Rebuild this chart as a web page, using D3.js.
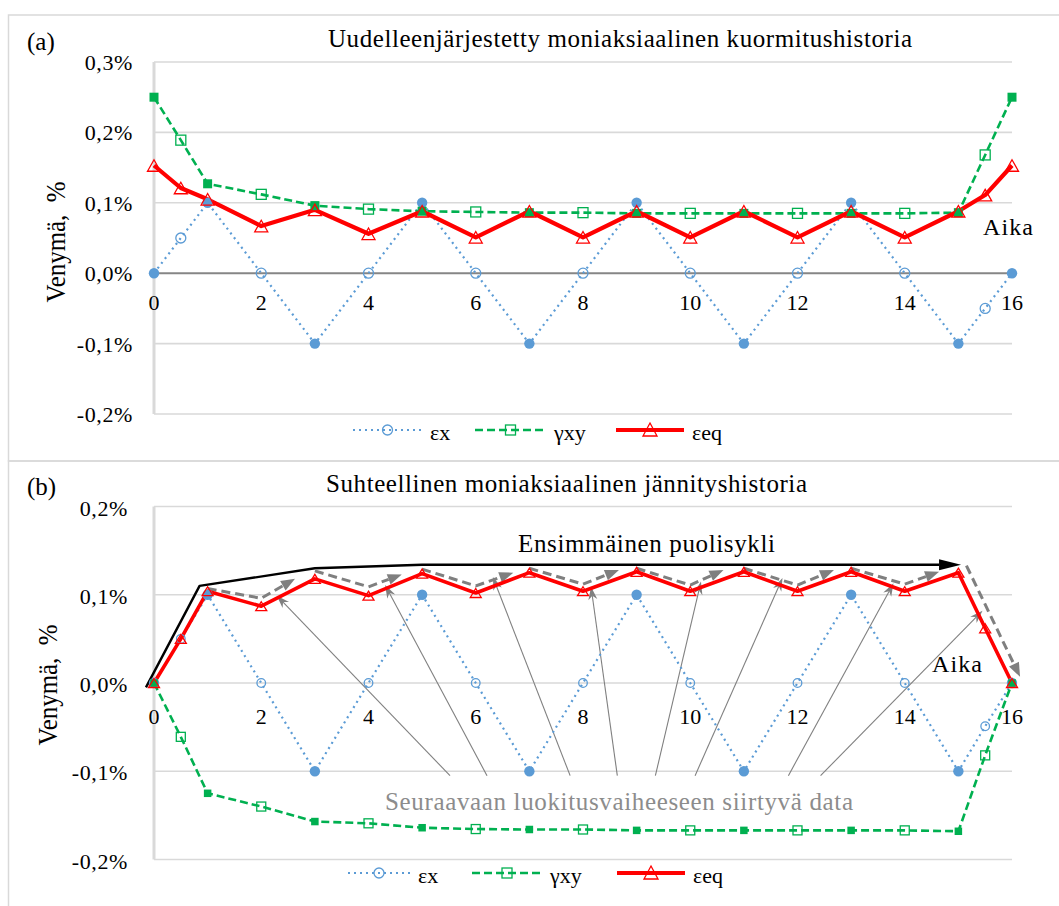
<!DOCTYPE html>
<html><head><meta charset="utf-8">
<script src="https://cdn.jsdelivr.net/npm/d3@7"></script>
<style>body{margin:0;background:#fff} svg{display:block} text{font-family:"Liberation Serif","Times New Roman",serif;fill:#000}</style>
</head><body><svg id="c" width="1059" height="906"></svg>
<script>
// ---------- data ----------
const xs = [0,0.5,1,2,3,4,5,6,7,8,9,10,11,12,13,14,15,15.5,16];
const exA  = [0,0.05,0.1,0,-0.1,0,0.1,0,-0.1,0,0.1,0,-0.1,0,0.1,0,-0.1,-0.05,0];
const gxyA = [0.25,0.189,0.127,0.112,0.096,0.091,0.088,0.087,0.086,0.086,0.085,0.085,0.085,0.085,0.085,0.085,0.086,0.168,0.25];
const eeqA = [0.153,0.121,0.105,0.067,0.09,0.056,0.088,0.051,0.088,0.051,0.088,0.051,0.088,0.051,0.088,0.051,0.088,0.111,0.153];
const exB  = [0,0.05,0.1,0,-0.1,0,0.1,0,-0.1,0,0.1,0,-0.1,0,0.1,0,-0.1,-0.049,0];
const gxyB = [0,-0.061,-0.125,-0.140,-0.157,-0.159,-0.164,-0.1655,-0.166,-0.166,-0.167,-0.167,-0.167,-0.167,-0.167,-0.167,-0.168,-0.082,0];
const eeqB = [0,0.05,0.104,0.087,0.118,0.099,0.124,0.102,0.125,0.104,0.126,0.104,0.126,0.104,0.126,0.104,0.125,0.062,0];
const xTicks = [0,2,4,6,8,10,12,14,16];
const yTicksA = [-0.2,-0.1,0,0.1,0.2,0.3];
const yTicksB = [-0.2,-0.1,0,0.1,0.2];
const seriesNames = ["εx","γxy","εeq"];
const titleA = "Uudelleenjärjestetty moniaksiaalinen kuormitushistoria";
const titleB = "Suhteellinen moniaksiaalinen jännityshistoria";
const axisTitle = "Venymä,\u00a0\u00a0%";
// annotation paths of panel (b), in data units (x, strain %)
const halfCycle = [[-0.15,-0.005],[0.85,0.11],[3.0,0.13],[5.0,0.134],[15.05,0.134]];
const cycleArrows = [
  [[1,0.107],[2,0.096],[2.63,0.118]],
  [[3,0.127],[4,0.109],[4.62,0.123]],
  [[5,0.129],[6,0.11],[6.7,0.125]],
  [[7,0.13],[8,0.112],[8.67,0.128]],
  [[9,0.13],[10,0.111],[10.62,0.128]],
  [[11,0.13],[12,0.111],[12.68,0.128]],
  [[13,0.13],[14,0.112],[14.64,0.126]],
  [[15.15,0.133],[16.15,0.007]]
];
const pointerStarts = [[5.52,-0.105],[6.21,-0.105],[7.76,-0.105],[8.64,-0.105],[9.35,-0.105],[10.09,-0.105],[11.83,-0.105],[12.43,-0.105]];
const pointerTips = [[2.29,0.099],[4.31,0.111],[6.32,0.12],[8.15,0.109],[10.2,0.115],[11.72,0.119],[13.79,0.113],[15.45,0.082]];

// ---------- drawing ----------
const svg = d3.select("#c");
const BLUE = "#5b9bd5", GREEN = "#00b050", RED = "#ff0000", GRID = "#d9d9d9";
const fmt = d => d3.format(".1f")(d).replace("−","-").replace(".",",") + "%";
const x = d3.scaleLinear().domain([0,16]).range([154,1012]);

// frames
svg.append("rect").attr("x",8.5).attr("y",15).attr("width",1100).attr("height",446)
  .attr("fill","none").attr("stroke",GRID).attr("stroke-width",1.5);
svg.append("rect").attr("x",8.5).attr("y",461).attr("width",1100).attr("height",500)
  .attr("fill","none").attr("stroke",GRID).attr("stroke-width",1.5);

function headPath(tip, from, len, wid){
  const dx = tip[0]-from[0], dy = tip[1]-from[1], L = Math.hypot(dx,dy);
  const ux = dx/L, uy = dy/L, px = -uy, py = ux;
  const bx = tip[0]-ux*len, by = tip[1]-uy*len;
  return {d:`M${tip[0]},${tip[1]}L${bx+px*wid/2},${by+py*wid/2}L${bx-px*wid/2},${by-py*wid/2}Z`, base:[bx,by]};
}

function panel(cfg){
  const g = svg.append("g");
  const y = cfg.y;
  // gridlines
  cfg.yTicks.forEach(t=>{
    g.append("line").attr("x1",x(0)).attr("x2",x(16)).attr("y1",y(t)).attr("y2",y(t))
      .attr("stroke", (t===0 && cfg.darkZero) ? "#868686" : GRID).attr("stroke-width", (t===0 && cfg.darkZero)?2:1.6);
  });
  g.append("line").attr("x1",x(0)).attr("x2",x(0)).attr("y1",y(cfg.yTicks[cfg.yTicks.length-1])).attr("y2",y(cfg.yTicks[0]))
    .attr("stroke",GRID).attr("stroke-width",3);
  // y tick labels
  cfg.yTicks.forEach(t=>{
    g.append("text").attr("x",cfg.yLabX).attr("y",y(t)+cfg.yLabDy).attr("text-anchor","end")
      .attr("font-size",22).attr("letter-spacing",0.6).text(fmt(t));
  });
  // x tick labels
  xTicks.forEach(t=>{
    g.append("text").attr("x",x(t)).attr("y",cfg.xLabY).attr("text-anchor","middle")
      .attr("font-size",22).text(t);
  });
  // titles
  g.append("text").attr("x",cfg.titleX).attr("y",cfg.titleY).attr("font-size",25)
    .attr("textLength",cfg.titleW).attr("lengthAdjust","spacing").text(cfg.title);
  g.append("text").attr("x",27).attr("y",cfg.titleY+3).attr("font-size",25).text(cfg.tag);
  g.append("text").attr("transform",`translate(${cfg.axX},${cfg.axY}) rotate(-90)`)
    .attr("text-anchor","middle").attr("font-size",28)
    .attr("textLength",121).attr("lengthAdjust","spacingAndGlyphs").text(axisTitle);
  g.append("text").attr("x",cfg.aikaX).attr("y",cfg.aikaY).attr("font-size",24)
    .attr("textLength",50).attr("lengthAdjust","spacing").text("Aika");

  const annG = g.append("g");
  // series lines
  const mk = vals => d3.line().x((d,i)=>x(xs[i])).y(d=>y(d))(vals);
  g.append("path").attr("d",mk(cfg.ex)).attr("fill","none").attr("stroke",BLUE).attr("stroke-width",2.2).attr("stroke-dasharray","2,4");
  g.append("path").attr("d",mk(cfg.gxy)).attr("fill","none").attr("stroke",GREEN).attr("stroke-width",2.6).attr("stroke-dasharray","8,4");
  g.append("path").attr("d",mk(cfg.eeq)).attr("fill","none").attr("stroke",RED).attr("stroke-width",cfg.redW).attr("stroke-linejoin","round");
  // markers
  const m = cfg.m;
  cfg.ex.forEach((v,i)=>{
    const filled = i%2===0;
    g.append("circle").attr("cx",x(xs[i])).attr("cy",y(v)).attr("r",filled?m.cf:m.co)
      .attr("fill",filled?BLUE:"none").attr("stroke",BLUE).attr("stroke-width",filled?0:1.3);
  });
  cfg.gxy.forEach((v,i)=>{
    const filled = i%2===0, s = filled?m.sf:m.so;
    g.append("rect").attr("x",x(xs[i])-s/2).attr("y",y(v)-s/2).attr("width",s).attr("height",s)
      .attr("fill",filled?GREEN:"none").attr("stroke",GREEN).attr("stroke-width",filled?0:1.3);
  });
  cfg.eeq.forEach((v,i)=>{
    const cx = x(xs[i]), cy = y(v), w = m.tw, h = m.th;
    g.append("path").attr("d",`M${cx},${cy-h/2}L${cx+w/2},${cy+h/2}L${cx-w/2},${cy+h/2}Z`)
      .attr("fill","none").attr("stroke",RED).attr("stroke-width",1.3);
  });
  // legend
  const L = cfg.leg, ly = L.y;
  g.append("line").attr("x1",L.ex[0]).attr("x2",L.ex[1]).attr("y1",ly).attr("y2",ly).attr("stroke",BLUE).attr("stroke-width",2.2).attr("stroke-dasharray","2,4");
  g.append("circle").attr("cx",(L.ex[0]+L.ex[1])/2).attr("cy",ly).attr("r",5).attr("fill","none").attr("stroke",BLUE).attr("stroke-width",1.3);
  g.append("line").attr("x1",L.g[0]).attr("x2",L.g[1]).attr("y1",ly).attr("y2",ly).attr("stroke",GREEN).attr("stroke-width",2.6).attr("stroke-dasharray","8,4");
  g.append("rect").attr("x",(L.g[0]+L.g[1])/2-5).attr("y",ly-5).attr("width",10).attr("height",10).attr("fill","none").attr("stroke",GREEN).attr("stroke-width",1.3);
  g.append("line").attr("x1",L.r[0]).attr("x2",L.r[1]).attr("y1",ly).attr("y2",ly).attr("stroke",RED).attr("stroke-width",4);
  const rc = (L.r[0]+L.r[1])/2;
  g.append("path").attr("d",`M${rc},${ly-7}L${rc+7},${ly+6}L${rc-7},${ly+6}Z`).attr("fill","none").attr("stroke",RED).attr("stroke-width",1.3);
  [[L.ex[1]+8,seriesNames[0]],[L.g[1]+8,seriesNames[1]],[L.r[1]+8,seriesNames[2]]].forEach(([tx,s])=>{
    g.append("text").attr("x",tx).attr("y",ly+10).attr("font-size",22).text(s);
  });
  return {g, annG, y};
}

const A = panel({
  y: d3.scaleLinear().domain([-0.2,0.3]).range([414,62]),
  yTicks: yTicksA, darkZero: true, yLabX: 133, yLabDy: 8, xLabY: 310,
  title: titleA, titleX: 328, titleY: 47, titleW: 584, tag: "(a)",
  axX: 65, axY: 242, aikaX: 983, aikaY: 235,
  ex: exA, gxy: gxyA, eeq: eeqA, redW: 4.2,
  m: {cf:5.2, co:5, sf:9, so:10, tw:13, th:11.5},
  leg: {y:430, ex:[353,422], g:[475,546], r:[616,684]}
});

const B = panel({
  y: d3.scaleLinear().domain([-0.2,0.2]).range([859.5,506.5]),
  yTicks: yTicksB, darkZero: false, yLabX: 128, yLabDy: 9, xLabY: 724,
  title: titleB, titleX: 326, titleY: 492, titleW: 481, tag: "(b)",
  axX: 57, axY: 685, aikaX: 932, aikaY: 672,
  ex: exB, gxy: gxyB, eeq: eeqB, redW: 3.6,
  m: {cf:5.2, co:4.3, sf:7.5, so:9, tw:11, th:9},
  leg: {y:873, ex:[348,410], g:[472,542], r:[617,685]}
});

// ---------- panel (b) annotations ----------
const yB = B.y, ag = B.annG;
const P = d => [x(d[0]), yB(d[1])];
// first half cycle (black)
{
  const pts = halfCycle.map(P);
  const h = headPath(pts[pts.length-1], pts[pts.length-2], 22, 11);
  const linePts = pts.slice(0,-1).concat([h.base]);
  ag.append("path").attr("d",d3.line()(linePts)).attr("fill","none").attr("stroke","#000").attr("stroke-width",2.4).attr("stroke-linejoin","round");
  ag.append("path").attr("d",h.d).attr("fill","#000");
}
ag.append("text").attr("x",518).attr("y",552).attr("font-size",25).attr("textLength",257).attr("lengthAdjust","spacing").text("Ensimmäinen puolisykli");
// grey dashed cycle arrows
cycleArrows.forEach(a=>{
  const pts = a.map(P);
  const h = headPath(pts[pts.length-1], pts[pts.length-2], 14, 11);
  const linePts = pts.slice(0,-1).concat([h.base]);
  ag.append("path").attr("d",d3.line()(linePts)).attr("fill","none").attr("stroke","#7f7f7f").attr("stroke-width",3).attr("stroke-dasharray","9,5");
  ag.append("path").attr("d",h.d).attr("fill","#7f7f7f");
});
// thin pointer arrows
pointerStarts.forEach((s,i)=>{
  const p0 = P(s), p1 = P(pointerTips[i]);
  const dx = p1[0]-p0[0], dy = p1[1]-p0[1], Ln = Math.hypot(dx,dy), ux = dx/Ln, uy = dy/Ln, px=-uy, py=ux;
  const len = 13, wid = 9, notch = 9;
  const b = [p1[0]-ux*len, p1[1]-uy*len], n = [p1[0]-ux*notch, p1[1]-uy*notch];
  ag.append("line").attr("x1",p0[0]).attr("y1",p0[1]).attr("x2",n[0]).attr("y2",n[1]).attr("stroke","#808080").attr("stroke-width",1.1);
  ag.append("path").attr("d",`M${p1[0]},${p1[1]}L${b[0]+px*wid/2},${b[1]+py*wid/2}L${n[0]},${n[1]}L${b[0]-px*wid/2},${b[1]-py*wid/2}Z`).attr("fill","#808080");
});
ag.append("text").attr("x",385).attr("y",810).attr("font-size",25).style("fill","#8c8c8c")
  .attr("textLength",468).attr("lengthAdjust","spacing").text("Seuraavaan luokitusvaiheeseen siirtyvä data");
</script></body></html>
